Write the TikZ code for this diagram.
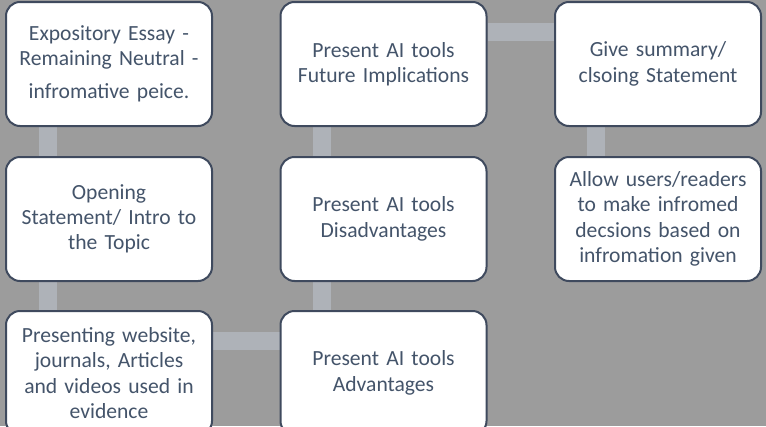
\documentclass[tikz,border=0pt]{standalone}
\usepackage{fontspec}
\setmainfont{Carlito}
\usetikzlibrary{backgrounds}
\definecolor{canvas}{HTML}{9C9C9C}
\definecolor{ink}{HTML}{44546A}
\definecolor{edge}{HTML}{3F4A5E}
\definecolor{bar}{HTML}{AEB2B8}
\begin{document}
\begin{tikzpicture}[x=1pt,y=-1pt,
  card/.style={draw=edge, line width=2pt, fill=white, rounded corners=14pt,
    minimum width=206pt, minimum height=124pt, inner sep=0pt,
    text width=204pt, align=center, text=ink,
    font=\fontsize{21.6}{25.3}\selectfont},
  link/.style={draw=bar, line width=18pt}]
  \useasboundingbox (0,0) rectangle (766,426);
  \clip (0,0) rectangle (766,426);

  % boxes: three columns, three rows
  \node[card] (b1) at (109,64) {Expository Essay -\\Remaining Neutral -\\[8pt]infromative peice.};
  \node[card] (b2) at (109,219) {Opening\\Statement/ Intro to\\the Topic};
  \node[card] (b3) at (109,373) {Presenting website,\\journals, Articles\\and videos used in\\evidence};
  \node[card] (b4) at (383.5,373) {Present AI tools\\Advantages};
  \node[card] (b5) at (383.5,219) {Present AI tools\\Disadvantages};
  \node[card] (b6) at (383.5,64) {Present AI tools\\Future Implications};
  \node[card] (b7) at (658,64) {Give summary/\\clsoing Statement};
  \node[card] (b8) at (658,219) {Allow users/readers\\to make infromed\\decsions based on\\infromation given};

  % page fill and connector bars behind the boxes
  \begin{pgfonlayer}{background}
    \fill[canvas] (0,0) rectangle (766,426);
    \draw[link] ([xshift=42.5pt]b1.south west) -- ([xshift=42.5pt]b2.north west);
    \draw[link] ([xshift=42.5pt]b2.south west) -- ([xshift=42.5pt]b3.north west);
    \draw[link] ([yshift=-31pt]b3.north east) -- ([yshift=-31pt]b4.north west);
    \draw[link] ([xshift=42pt]b4.north west) -- ([xshift=42pt]b5.south west);
    \draw[link] ([xshift=42pt]b5.north west) -- ([xshift=42pt]b6.south west);
    \draw[link] ([yshift=-30.5pt]b6.north east) -- ([yshift=-30.5pt]b7.north west);
    \draw[link] ([xshift=41.5pt]b7.south west) -- ([xshift=41.5pt]b8.north west);
  \end{pgfonlayer}
\end{tikzpicture}
\end{document}
